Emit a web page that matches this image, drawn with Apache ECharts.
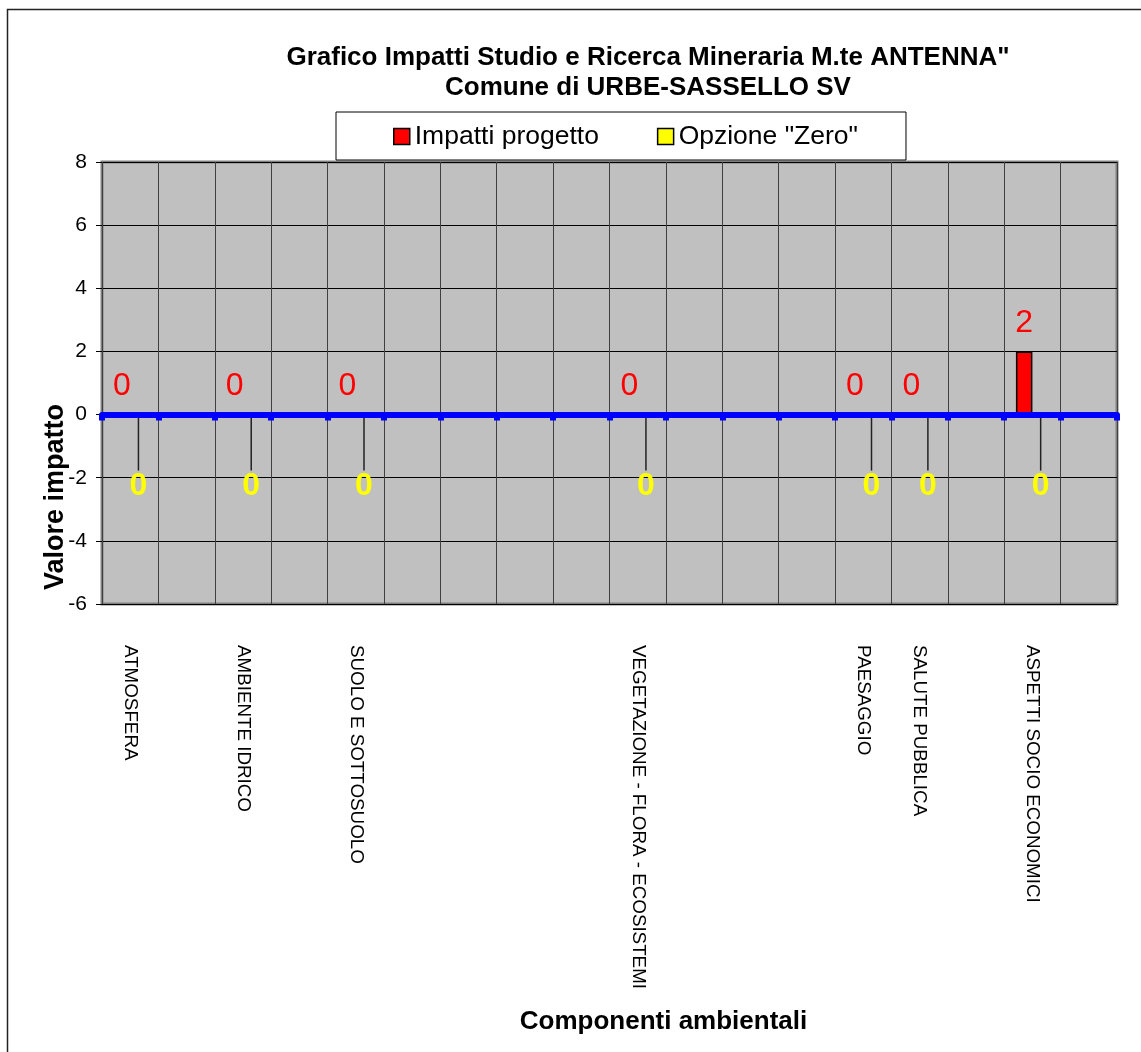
<!DOCTYPE html>
<html>
<head>
<meta charset="utf-8">
<script src="https://cdn.jsdelivr.net/npm/echarts@6/dist/echarts.min.js"></script>
<style>
  html, body { margin: 0; padding: 0; background: #fff; }
  #chart { width: 1141px; height: 1052px; }
</style>
</head>
<body>
<div id="chart"></div>
<script>
// componenti ambientali (colonne vuote = '')
var categories = ['ATMOSFERA', '', 'AMBIENTE IDRICO', '', 'SUOLO E SOTTOSUOLO', '', '', '', '',
  'VEGETAZIONE - FLORA - ECOSISTEMI', '', '', '', 'PAESAGGIO', 'SALUTE PUBBLICA', '',
  'ASPETTI SOCIO ECONOMICI', ''];
var impattiProgetto = [0, '-', 0, '-', 0, '-', '-', '-', '-', 0, '-', '-', '-', 0, 0, '-', 2, '-'];
var opzioneZero = [0, '-', 0, '-', 0, '-', '-', '-', '-', 0, '-', '-', '-', 0, 0, '-', 0, '-'];
var yTicks = { min: -6, max: 8, interval: 2 };

var font = "'Liberation Sans', Arial, sans-serif";
var myChart = echarts.init(document.getElementById('chart'));

var option = {
  animation: false,
  textStyle: { fontFamily: font },
  title: {
    text: 'Grafico Impatti Studio e Ricerca Mineraria M.te ANTENNA"\nComune di URBE-SASSELLO SV',
    left: 648,
    top: 43,
    padding: 0,
    textAlign: 'center',
    textStyle: { fontSize: 26, fontWeight: 'bold', color: '#000', lineHeight: 30, fontFamily: font }
  },
  legend: {
    left: 336,
    top: 112,
    padding: [11, 48, 10, 57],
    itemWidth: 16,
    itemHeight: 16,
    itemGap: 58,
    backgroundColor: '#fff',
    borderColor: '#000',
    borderWidth: 1,
    borderRadius: 0,
    icon: 'rect',
    itemStyle: { borderColor: '#000', borderWidth: 1.5 },
    textStyle: { fontSize: 26.5, color: '#000', fontFamily: font }
  },
  grid: {
    left: 102,
    right: 24,
    top: 162,
    bottom: 448,
    show: true,
    backgroundColor: '#C0C0C0',
    borderColor: '#808080',
    borderWidth: 3
  },
  xAxis: [
    {
      // linea dello zero
      type: 'category',
      data: categories,
      z: 5,
      axisLine: { onZero: true, lineStyle: { color: '#0000FF', width: 6 } },
      axisTick: { show: true, length: 6, interval: 0, lineStyle: { color: '#0000FF', width: 6 } },
      axisLabel: { show: false },
      splitLine: { show: false }
    },
    {
      type: 'category',
      data: categories,
      position: 'bottom',
      axisLine: { show: false, onZero: false },
      axisTick: { show: false },
      splitLine: { show: true, interval: 0, lineStyle: { color: '#404040', width: 1 } },
      axisLabel: {
        interval: 0,
        rotate: -90,
        margin: 41,
        fontSize: 18.8,
        color: '#000',
        fontFamily: font
      },
      name: 'Componenti ambientali',
      nameLocation: 'middle',
      nameGap: 405,
      nameTextStyle: { fontSize: 26, fontWeight: 'bold', color: '#000', fontFamily: font, padding: [0, 0, 0, 108] }
    }
  ],
  yAxis: {
    type: 'value',
    min: yTicks.min,
    max: yTicks.max,
    interval: yTicks.interval,
    axisLine: { show: false },
    axisTick: { show: true, length: 6, lineStyle: { color: '#000', width: 1 } },
    axisLabel: { fontSize: 21, color: '#000', margin: 15, fontFamily: font },
    splitLine: { show: true, lineStyle: { color: '#000', width: 1 } }
  },
  graphic: [
    {
      type: 'rect',
      shape: { x: 7.5, y: 9.5, width: 1300, height: 1200 },
      style: { fill: 'none', stroke: '#222', lineWidth: 1.5 },
      silent: true,
      z: -10
    },
    {
      type: 'text',
      x: 56,
      y: 497,
      rotation: Math.PI / 2,
      style: {
        text: 'Valore impatto',
        font: "bold 27px 'Liberation Sans', Arial, sans-serif",
        fill: '#000',
        align: 'center',
        verticalAlign: 'middle'
      }
    }
  ],
  series: [
    {
      name: 'Impatti progetto',
      type: 'bar',
      xAxisIndex: 0,
      data: impattiProgetto,
      barWidth: 16.5,
      barGap: '0%',
      itemStyle: { color: '#FF0000', borderColor: '#000', borderWidth: 1.5 },
      label: {
        show: true,
        position: 'top',
        distance: 12,
        fontSize: 32,
        color: '#FF0000',
        fontFamily: font
      }
    },
    {
      name: 'Opzione "Zero"',
      type: 'bar',
      xAxisIndex: 0,
      data: opzioneZero,
      barWidth: 16.5,
      barGap: '0%',
      itemStyle: { color: '#FFFF00', borderWidth: 0 },
      label: {
        show: true,
        position: 'bottom',
        distance: 4,
        fontSize: 32,
        fontWeight: 'bold',
        color: '#FFFF00',
        fontFamily: font
      },
      labelLayout: { dy: 52 },
      labelLine: { show: true, lineStyle: { color: '#222', width: 1.5 } }
    }
  ]
};

myChart.setOption(option);
</script>
</body>
</html>
